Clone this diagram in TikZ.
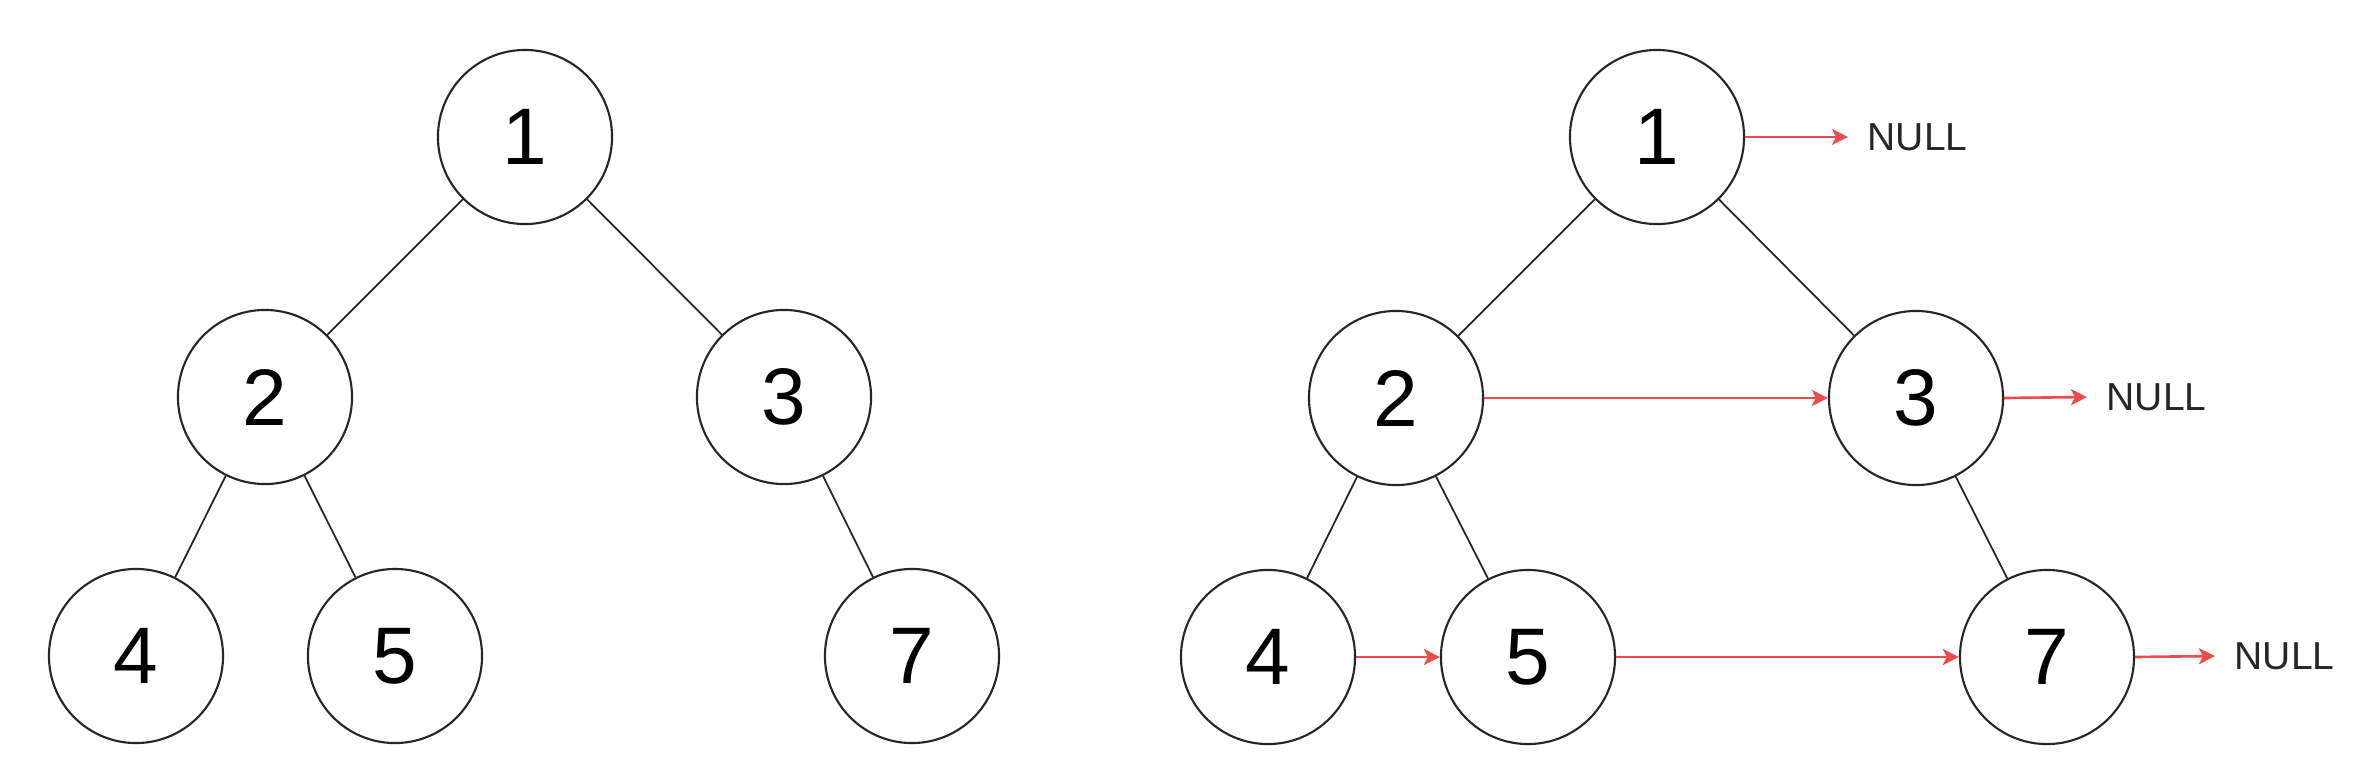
\documentclass[tikz,border=0pt]{standalone}
\usepackage{fontspec}
\setmainfont{Liberation Sans}
\usetikzlibrary{arrows.meta}
\definecolor{nextcol}{RGB}{234,76,76}

\begin{document}
\begin{tikzpicture}[
  x=0.01cm, y=-0.01cm,
  tnode/.style={draw=black!85, line width=0.6pt, circle, inner sep=0pt,
                minimum size=1.74cm, font=\fontsize{22.8}{26}\selectfont},
  tedge/.style={black!85, line width=0.5pt},
  nullbox/.style={anchor=west, inner xsep=0.19cm, inner ysep=0pt,
                  font=\fontsize{11.1}{13}\selectfont, text=black!85},
  nextptr/.style={-{Stealth[length=1.6mm,width=1.6mm,inset=0.4mm]}, nextcol, line width=0.75pt}
]
  \useasboundingbox (0,0) rectangle (2372,772);

  % original tree
  \node[tnode] (l1) at (525,137) {1};
  \node[tnode] (l2) at (265,397) {2};
  \node[tnode] (l3) at (784,397) {3};
  \node[tnode] (l4) at (136,656) {4};
  \node[tnode] (l5) at (395,656) {5};
  \node[tnode] (l7) at (912,656) {7};

  \draw[tedge] (l1) -- (l2);
  \draw[tedge] (l1) -- (l3);
  \draw[tedge] (l2) -- (l4);
  \draw[tedge] (l2) -- (l5);
  \draw[tedge] (l3) -- (l7);

  % tree with next pointers
  \node[tnode] (r1) at (1657,137) {1};
  \node[tnode] (r2) at (1396,398) {2};
  \node[tnode] (r3) at (1916,398) {3};
  \node[tnode] (r4) at (1268,657) {4};
  \node[tnode] (r5) at (1528,657) {5};
  \node[tnode] (r7) at (2047,657) {7};

  \draw[tedge] (r1) -- (r2);
  \draw[tedge] (r1) -- (r3);
  \draw[tedge] (r2) -- (r4);
  \draw[tedge] (r2) -- (r5);
  \draw[tedge] (r3) -- (r7);

  \node[nullbox] (n1) at (1848,137) {NULL};
  \node[nullbox] (n3) at (2087,397) {NULL};
  \node[nullbox] (n7) at (2215,656) {NULL};

  \draw[nextptr] (r1.east) -- (n1.west);
  \draw[nextptr] (r2.east) -- (r3.west);
  \draw[nextptr] (r3.east) -- (n3.west);
  \draw[nextptr] (r4.east) -- (r5.west);
  \draw[nextptr] (r5.east) -- (r7.west);
  \draw[nextptr] (r7.east) -- (n7.west);
\end{tikzpicture}
\end{document}
